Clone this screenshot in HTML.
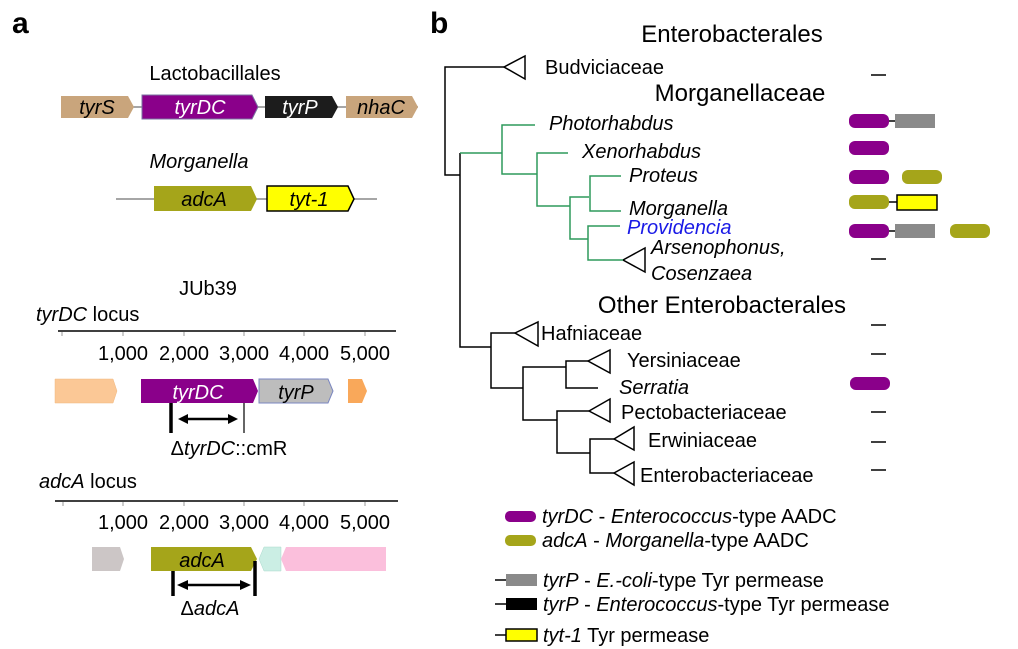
<!DOCTYPE html>
<html><head><meta charset="utf-8"><style>
html,body{margin:0;padding:0;background:#fff}
svg{display:block}
text{font-family:"Liberation Sans",Arial,sans-serif;fill:#000}
.i{font-style:italic}
</style></head><body>
<svg width="1018" height="649" viewBox="0 0 1018 649" xmlns="http://www.w3.org/2000/svg">
<!-- Panel a -->
<text x="12" y="33" font-size="30" font-weight="bold">a</text>
<text x="215" y="80" font-size="20" text-anchor="middle">Lactobacillales</text>
<line x1="61" y1="107" x2="418" y2="107" stroke="#888" stroke-width="1.5"/>
<polygon points="61,96 128,96 134,107 128,118 61,118" fill="#c9a57c"/>
<polygon points="142,95 252,95 258,107 252,119 142,119" fill="#8a008a" stroke="#7a70a0" stroke-width="1"/>
<polygon points="265,96 332,96 338,107 332,118 265,118" fill="#1c1c1c"/>
<polygon points="346,96 412,96 418,107 412,118 346,118" fill="#c9a57c"/>
<text x="97" y="114" font-size="20" class="i" text-anchor="middle">tyrS</text>
<text x="200" y="114" font-size="20" class="i" text-anchor="middle" style="fill:#fff">tyrDC</text>
<text x="300" y="114" font-size="20" class="i" text-anchor="middle" style="fill:#fff">tyrP</text>
<text x="381" y="114" font-size="20" class="i" text-anchor="middle">nhaC</text>

<text x="199" y="168" font-size="20" class="i" text-anchor="middle">Morganella</text>
<line x1="116" y1="199" x2="377" y2="199" stroke="#888" stroke-width="1.5"/>
<polygon points="154,186 251,186 257,199 251,211 154,211" fill="#a5a51a"/>
<polygon points="267,186 348,186 354,199 348,211 267,211" fill="#ffff00" stroke="#000" stroke-width="1.5"/>
<text x="204" y="206" font-size="20" class="i" text-anchor="middle">adcA</text>
<text x="309" y="206" font-size="20" class="i" text-anchor="middle">tyt-1</text>

<text x="208" y="295" font-size="20" text-anchor="middle">JUb39</text>
<text x="36" y="321" font-size="20"><tspan class="i">tyrDC</tspan> locus</text>
<line x1="58" y1="331" x2="396" y2="331" stroke="#000" stroke-width="1.5"/>
<g stroke="#999" stroke-width="1">
<line x1="62" y1="332" x2="62" y2="336"/><line x1="123" y1="332" x2="123" y2="336"/><line x1="184" y1="332" x2="184" y2="336"/><line x1="244" y1="332" x2="244" y2="336"/><line x1="304" y1="332" x2="304" y2="336"/><line x1="365" y1="332" x2="365" y2="336"/>
</g>
<g font-size="20" text-anchor="middle">
<text x="123" y="360">1,000</text><text x="184" y="360">2,000</text><text x="244" y="360">3,000</text><text x="304" y="360">4,000</text><text x="365" y="360">5,000</text>
</g>
<polygon points="55,379 113,379 117,391 113,403 55,403" fill="#fbc896" stroke="#f0b880" stroke-width="0.5"/>
<polygon points="141,379 253,379 258,391 253,403 141,403" fill="#8a008a"/>
<polygon points="259,379 328,379 333,391 328,403 259,403" fill="#bdbdbd" stroke="#7a86c0" stroke-width="1"/>
<polygon points="348,379 362,379 367,391 362,403 348,403" fill="#f9a85a"/>
<text x="198" y="399" font-size="20" class="i" text-anchor="middle" style="fill:#fff">tyrDC</text>
<text x="296" y="399" font-size="20" class="i" text-anchor="middle">tyrP</text>
<line x1="171" y1="403" x2="171" y2="433" stroke="#000" stroke-width="3.5"/>
<line x1="244" y1="403" x2="244" y2="433" stroke="#000" stroke-width="1.2"/>
<line x1="182" y1="419" x2="234" y2="419" stroke="#000" stroke-width="2.5"/>
<polygon points="178,419 188,414 188,424" fill="#000"/>
<polygon points="238,419 228,414 228,424" fill="#000"/>
<text x="229" y="455" font-size="20" text-anchor="middle">Δ<tspan class="i">tyrDC</tspan>::cmR</text>

<text x="39" y="488" font-size="20"><tspan class="i">adcA</tspan> locus</text>
<line x1="55" y1="501" x2="398" y2="501" stroke="#000" stroke-width="1.5"/>
<g stroke="#999" stroke-width="1">
<line x1="63" y1="502" x2="63" y2="506"/><line x1="123" y1="502" x2="123" y2="506"/><line x1="184" y1="502" x2="184" y2="506"/><line x1="244" y1="502" x2="244" y2="506"/><line x1="304" y1="502" x2="304" y2="506"/><line x1="365" y1="502" x2="365" y2="506"/>
</g>
<g font-size="20" text-anchor="middle">
<text x="123" y="529">1,000</text><text x="184" y="529">2,000</text><text x="244" y="529">3,000</text><text x="304" y="529">4,000</text><text x="365" y="529">5,000</text>
</g>
<polygon points="92,547 120,547 124,559 120,571 92,571" fill="#ccc6c6"/>
<polygon points="151,547 251,547 257,559 251,571 151,571" fill="#a5a51a"/>
<polygon points="264,547 281,547 281,571 264,571 259,559" fill="#cbeee4" stroke="#a9d9cb" stroke-width="0.5"/>
<polygon points="286,547 386,547 386,571 286,571 281,559" fill="#fbbfdc"/>
<text x="202" y="567" font-size="20" class="i" text-anchor="middle">adcA</text>
<line x1="173" y1="571" x2="173" y2="596" stroke="#000" stroke-width="3.5"/>
<line x1="255" y1="561" x2="255" y2="596" stroke="#000" stroke-width="3.5"/>
<line x1="182" y1="585" x2="246" y2="585" stroke="#000" stroke-width="2.5"/>
<polygon points="177,585 188,580 188,590" fill="#000"/>
<polygon points="251,585 240,580 240,590" fill="#000"/>
<text x="210" y="615" font-size="20" text-anchor="middle">Δ<tspan class="i">adcA</tspan></text>

<!-- Panel b -->
<text x="430" y="33" font-size="30" font-weight="bold">b</text>
<text x="732" y="42" font-size="24" text-anchor="middle">Enterobacterales</text>
<text x="740" y="101" font-size="24" text-anchor="middle">Morganellaceae</text>
<text x="722" y="313" font-size="24" text-anchor="middle">Other Enterobacterales</text>

<g stroke="#000" stroke-width="1.5" fill="none">
<polyline points="504,67 445,67 445,175 460,175"/>
<polygon points="504,67 525,56 525,79" fill="#fff"/>
<polyline points="460,153 460,347 491,347"/>
<polyline points="515,333 491,333 491,388 523,388"/>
<polygon points="515,333 538,322 538,346" fill="#fff"/>
<polyline points="566,367 523,367 523,420 557,420"/>
<polyline points="588,361 566,361 566,388 598,388"/>
<polygon points="588,361 610,350 610,373" fill="#fff"/>
<polyline points="589,411 557,411 557,453 590,453"/>
<polygon points="589,411 610,399 610,422" fill="#fff"/>
<polyline points="614,439 590,439 590,473 614,473"/>
<polygon points="614,439 634,427 634,450" fill="#fff"/>
<polygon points="614,473 634,462 634,485" fill="#fff"/>
<polygon points="623,260 645,248 645,272" fill="#fff"/>
</g>
<g stroke="#2e9a5c" stroke-width="1.5" fill="none">
<polyline points="460,153 502,153"/>
<polyline points="535,125 502,125 502,174 537,174"/>
<polyline points="568,153 537,153 537,206 570,206"/>
<polyline points="589,197 570,197 570,239 588,239"/>
<polyline points="621,176 590,176 590,211 621,211"/>
<polyline points="620,226 588,226 588,260 623,260"/>
</g>
<g font-size="20">
<text x="545" y="74">Budviciaceae</text>
<text x="549" y="130" class="i">Photorhabdus</text>
<text x="582" y="158" class="i">Xenorhabdus</text>
<text x="629" y="182" class="i">Proteus</text>
<text x="629" y="215" class="i">Morganella</text>
<text x="627" y="234" class="i" style="fill:#1a1ae6">Providencia</text>
<text x="651" y="254" class="i">Arsenophonus,</text>
<text x="651" y="280" class="i">Cosenzaea</text>
<text x="541" y="340">Hafniaceae</text>
<text x="627" y="367">Yersiniaceae</text>
<text x="619" y="394" class="i">Serratia</text>
<text x="621" y="419">Pectobacteriaceae</text>
<text x="648" y="447">Erwiniaceae</text>
<text x="640" y="482">Enterobacteriaceae</text>
</g>
<g stroke="#000" stroke-width="1.5">
<line x1="871" y1="75" x2="886" y2="75"/>
<line x1="871" y1="259" x2="886" y2="259"/>
<line x1="871" y1="325" x2="886" y2="325"/>
<line x1="871" y1="354" x2="886" y2="354"/>
<line x1="871" y1="412" x2="886" y2="412"/>
<line x1="871" y1="442" x2="886" y2="442"/>
<line x1="871" y1="470" x2="886" y2="470"/>
<line x1="888" y1="121" x2="896" y2="121"/>
<line x1="888" y1="202" x2="897" y2="202"/>
<line x1="888" y1="231" x2="896" y2="231"/>
</g>
<rect x="849" y="114" width="40" height="14" rx="6" fill="#8a008a"/>
<rect x="895" y="114" width="40" height="14" fill="#8a8a8a"/>
<rect x="849" y="141" width="40" height="14" rx="6" fill="#8a008a"/>
<rect x="849" y="170" width="40" height="14" rx="6" fill="#8a008a"/>
<rect x="902" y="170" width="40" height="14" rx="6" fill="#a5a51a"/>
<rect x="849" y="195" width="40" height="14" rx="6" fill="#a5a51a"/>
<rect x="897" y="195" width="40" height="15" fill="#ffff00" stroke="#000" stroke-width="1.5"/>
<rect x="849" y="224" width="40" height="14" rx="6" fill="#8a008a"/>
<rect x="895" y="224" width="40" height="14" fill="#8a8a8a"/>
<rect x="950" y="224" width="40" height="14" rx="6" fill="#a5a51a"/>
<rect x="850" y="377" width="40" height="13" rx="6" fill="#8a008a"/>

<!-- legend -->
<rect x="505" y="511" width="31" height="11" rx="5" fill="#8a008a"/>
<rect x="505" y="535" width="31" height="11" rx="5" fill="#a5a51a"/>
<line x1="495" y1="580" x2="506" y2="580" stroke="#000" stroke-width="1.5"/>
<rect x="506" y="574" width="31" height="12" fill="#8a8a8a"/>
<line x1="495" y1="604" x2="506" y2="604" stroke="#000" stroke-width="1.5"/>
<rect x="506" y="598" width="31" height="12" fill="#000"/>
<line x1="495" y1="635" x2="506" y2="635" stroke="#000" stroke-width="1.5"/>
<rect x="506" y="629" width="31" height="12" fill="#ffff00" stroke="#000" stroke-width="1.5"/>
<g font-size="20">
<text x="542" y="523"><tspan class="i">tyrDC</tspan> - <tspan class="i">Enterococcus</tspan>-type AADC</text>
<text x="542" y="547"><tspan class="i">adcA</tspan> - <tspan class="i">Morganella</tspan>-type AADC</text>
<text x="543" y="587"><tspan class="i">tyrP</tspan> - <tspan class="i">E.-coli</tspan>-type Tyr permease</text>
<text x="543" y="611"><tspan class="i">tyrP</tspan> - <tspan class="i">Enterococcus</tspan>-type Tyr permease</text>
<text x="543" y="642"><tspan class="i">tyt-1</tspan> Tyr permease</text>
</g>
</svg>
</body></html>
